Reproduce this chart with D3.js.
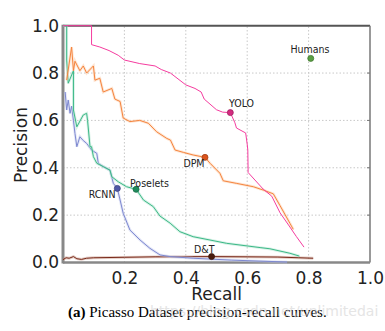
<!DOCTYPE html>
<html>
<head>
<meta charset="utf-8">
<script src="https://cdn.jsdelivr.net/npm/d3@7"></script>
<style>
    body { margin: 0; background: #fff; }
    svg { display: block; }
</style>
</head>
<body>
<div id="chart"></div>
<script>
"use strict"

// curves, [recall, precision]
let yoloCurve = [[0,1.0],[0.093,1.0],[0.093,0.92],[0.12,0.91],[0.15,0.895],[0.18,0.875],[0.2,0.855],[0.25,0.84],[0.3,0.83],[0.32,0.815],[0.35,0.80],[0.4,0.75],[0.43,0.735],[0.45,0.72],[0.46,0.69],[0.5,0.645],[0.52,0.635],[0.545,0.633],[0.56,0.59],[0.565,0.568],[0.595,0.547],[0.6,0.5],[0.602,0.475],[0.603,0.38],[0.652,0.31],[0.68,0.28],[0.707,0.21],[0.739,0.15],[0.76,0.11],[0.785,0.065]];
let dpmCurve = [[0.012,0.77],[0.028,0.91],[0.034,0.81],[0.039,0.85],[0.055,0.81],[0.066,0.83],[0.077,0.80],[0.099,0.83],[0.104,0.77],[0.12,0.778],[0.131,0.72],[0.159,0.735],[0.169,0.69],[0.186,0.68],[0.196,0.61],[0.218,0.595],[0.25,0.60],[0.278,0.588],[0.305,0.552],[0.338,0.524],[0.35,0.517],[0.365,0.475],[0.392,0.465],[0.424,0.454],[0.4625,0.444],[0.479,0.419],[0.511,0.377],[0.522,0.345],[0.566,0.334],[0.62,0.32],[0.652,0.306],[0.685,0.29],[0.707,0.24],[0.739,0.166],[0.75,0.14]];
let poseletsCurve = [[0,1.0],[0.012,1.0],[0.012,0.855],[0.017,0.757],[0.034,0.81],[0.034,0.644],[0.045,0.573],[0.066,0.623],[0.077,0.63],[0.08,0.6],[0.088,0.489],[0.093,0.489],[0.099,0.447],[0.11,0.419],[0.131,0.405],[0.153,0.39],[0.159,0.362],[0.18,0.341],[0.207,0.32],[0.238,0.309],[0.251,0.285],[0.262,0.264],[0.294,0.236],[0.316,0.196],[0.349,0.166],[0.381,0.13],[0.424,0.109],[0.533,0.081],[0.642,0.063],[0.674,0.058],[0.739,0.039],[0.77,0.027]];
let rcnnCurve = [[0.007,0.72],[0.012,0.644],[0.017,0.686],[0.023,0.63],[0.028,0.66],[0.034,0.60],[0.039,0.545],[0.045,0.489],[0.055,0.531],[0.066,0.515],[0.077,0.503],[0.093,0.475],[0.11,0.461],[0.115,0.419],[0.131,0.405],[0.153,0.39],[0.164,0.334],[0.177,0.313],[0.186,0.264],[0.196,0.208],[0.218,0.137],[0.251,0.095],[0.283,0.06],[0.316,0.032],[0.349,0.025],[0.424,0.018],[0.55,0.01],[0.73,0.002]];
let dtCurve = [[0,0.012],[0.01,0.02],[0.02,0.018],[0.034,0.025],[0.045,0.016],[0.06,0.013],[0.077,0.018],[0.1,0.02],[0.2,0.022],[0.3,0.024],[0.484,0.025],[0.6,0.024],[0.7,0.023],[0.815,0.018]];

let names = ["YOLO", "DPM", "Poselets", "RCNN", "D&T", "Humans"];
let markerPoints = [[0.545,0.633],[0.4625,0.444],[0.238,0.309],[0.177,0.313],[0.484,0.025],[0.807,0.862]];

let xTicks = [0.2, 0.4, 0.6, 0.8, 1.0];
let yTicks = [0.0, 0.2, 0.4, 0.6, 0.8, 1.0];
let captionBold = "(a)";
let captionText = " Picasso Dataset precision-recall curves.";

let width = 385, height = 331;

let svg = d3.select("#chart").append("svg")
    .attr("width", width)
    .attr("height", height)

let x = d3.scaleLinear().domain([0, 1]).range([63, 370]);
let y = d3.scaleLinear().domain([0, 1]).range([262.5, 25.7]);

// dotted grid
let grid = svg.append("g")
grid.selectAll(".vg").data([0.2, 0.4, 0.6, 0.8]).enter().append("line")
    .attr("x1", d => x(d)).attr("x2", d => x(d))
    .attr("y1", y(0)).attr("y2", y(1))
    .style("stroke", "#c8c8c8").style("stroke-width", 1).style("stroke-dasharray", "1.5,2")
grid.selectAll(".hg").data([0.2, 0.4, 0.6, 0.8]).enter().append("line")
    .attr("y1", d => y(d)).attr("y2", d => y(d))
    .attr("x1", x(0)).attr("x2", x(1))
    .style("stroke", "#c8c8c8").style("stroke-width", 1).style("stroke-dasharray", "1.5,2")

// axes, labels only - frame drawn by hand below
let xAxis = d3.axisBottom(x).tickValues(xTicks).tickFormat(d3.format(".1f")).tickSize(0).tickPadding(9);
let yAxis = d3.axisLeft(y).tickValues(yTicks).tickFormat(d3.format(".1f")).tickSize(0).tickPadding(4);

svg.append("g").attr("transform", "translate(0," + y(0) + ")").call(xAxis)
    .call(g => g.select(".domain").remove())
    .selectAll("text")
    .style("font-family", "DejaVu Sans").style("font-size", "17px").style("fill", "#222")
svg.append("g").attr("transform", "translate(" + x(0) + ",0)").call(yAxis)
    .call(g => g.select(".domain").remove())
    .selectAll("text")
    .style("font-family", "DejaVu Sans").style("font-size", "17px").style("fill", "#222")

// small inward ticks on the right
svg.append("g").selectAll("line").data([0.2, 0.4, 0.6, 0.8]).enter().append("line")
    .attr("x1", x(1)).attr("x2", x(1) - 3)
    .attr("y1", d => y(d)).attr("y2", d => y(d))
    .style("stroke", "#777")

// frame
svg.append("line").attr("x1", x(0)).attr("x2", x(1)).attr("y1", y(1)).attr("y2", y(1))
    .style("stroke", "#555").style("stroke-width", 2)
svg.append("line").attr("x1", x(1)).attr("x2", x(1)).attr("y1", y(1)).attr("y2", y(0))
    .style("stroke", "#777").style("stroke-width", 1.5)
svg.append("line").attr("x1", x(0)).attr("x2", x(1)).attr("y1", y(0)).attr("y2", y(0))
    .style("stroke", "#888").style("stroke-width", 2.5)
svg.append("line").attr("x1", x(0)).attr("x2", x(0)).attr("y1", y(1) - 1).attr("y2", y(0) + 1)
    .style("stroke", "#888").style("stroke-width", 3)

let line = d3.line().x(d => x(d[0])).y(d => y(d[1]));

let series = [
    {data: dtCurve, color: "#7a2a1a", halo: "#c09080"},
    {data: rcnnCurve, color: "#7d88d0", halo: "#c3c9ee"},
    {data: poseletsCurve, color: "#3cb887", halo: "#a8e2c9"},
    {data: dpmCurve, color: "#f5843e", halo: "#fcc79f"},
    {data: yoloCurve, color: "#f53c9f", halo: null}
]

for(let i = 0; i < series.length; i++){
    let s = series[i];
    if(s.halo){
        svg.append("path").datum(s.data)
            .attr("d", line)
            .style("fill", "none")
            .style("stroke", s.halo)
            .style("stroke-width", 2.8)
            .style("opacity", 0.45)
    }
    svg.append("path").datum(s.data)
        .attr("d", line)
        .style("fill", "none")
        .style("stroke", s.color)
        .style("stroke-width", 1)
}

// markers
let markerFill = ["#d42a80", "#db541c", "#1f8c5c", "#4f58a8", "#4a1c0e", "#5aa043"];
for(let i = 0; i < names.length; i++){
    let p = markerPoints[i];
    svg.append("circle")
        .attr("cx", x(p[0]))
        .attr("cy", y(p[1]))
        .attr("r", 3)
        .style("fill", markerFill[i])
        .style("stroke", d3.color(markerFill[i]).darker(0.8))
        .style("stroke-width", 0.8)
}

let labelXY = [[241.5, 107.3], [204.5, 167], [149.5, 186.5], [115.5, 197.5], [214.5, 252.5], [310, 53.3]];
let labelAnchor = ["middle", "end", "middle", "end", "end", "middle"];
svg.selectAll(".mlabel").data(names).enter().append("text")
    .attr("class", "mlabel")
    .attr("x", (d, i) => labelXY[i][0])
    .attr("y", (d, i) => labelXY[i][1])
    .attr("text-anchor", (d, i) => labelAnchor[i])
    .style("font-family", "DejaVu Sans Condensed, DejaVu Sans")
    .style("font-size", "10.5px")
    .style("fill", "#222")
    .text(d => d)

// axis titles
svg.append("text")
    .attr("x", x(0.5))
    .attr("y", 300)
    .attr("text-anchor", "middle")
    .style("font-family", "DejaVu Sans").style("font-size", "17px").style("fill", "#222")
    .text("Recall")
svg.append("text")
    .attr("transform", "translate(26.5,145) rotate(-90)")
    .attr("text-anchor", "middle")
    .style("font-family", "DejaVu Sans").style("font-size", "17px").style("fill", "#222")
    .text("Precision")

// caption
let cap = svg.append("text")
    .attr("x", 68)
    .attr("y", 317)
    .style("font-family", "Liberation Serif, Times New Roman, serif")
    .style("font-size", "15px")
    .style("fill", "#000")
cap.append("tspan").style("font-weight", "bold").text(captionBold)
cap.append("tspan").text(captionText)

// faint watermark over the caption
svg.append("text")
    .attr("x", 150)
    .attr("y", 316)
    .style("font-family", "DejaVu Sans")
    .style("font-size", "14px")
    .style("fill", "#d0d0d0")
    .style("opacity", 0.55)
    .text("https://blog.csdn.net/unlimitedai")
</script>
</body>
</html>
